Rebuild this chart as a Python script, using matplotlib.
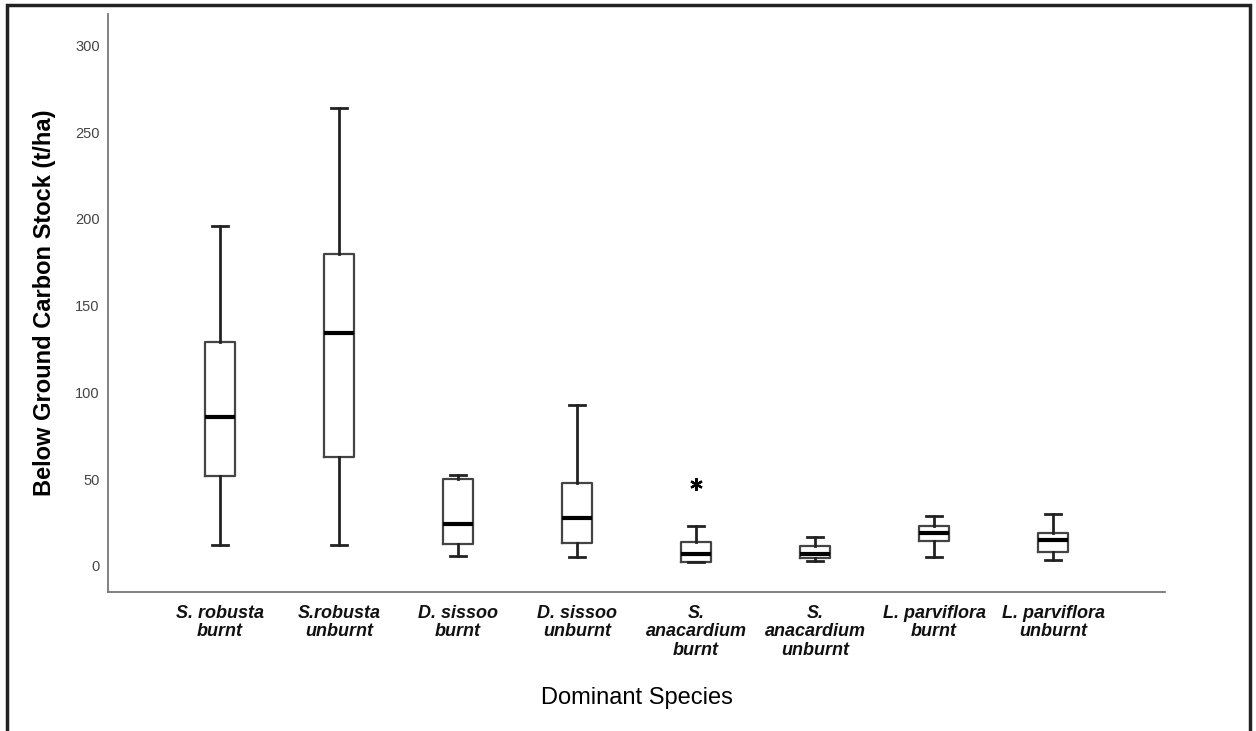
import matplotlib
matplotlib.use("Agg")
import matplotlib.pyplot as plt
from matplotlib.patches import Rectangle

categories = ["S. robusta\nburnt", "S.robusta\nunburnt", "D. sissoo\nburnt", "D. sissoo\nunburnt",
              "S.\nanacardium\nburnt", "S.\nanacardium\nunburnt", "L. parviflora\nburnt", "L. parviflora\nunburnt"]
whislo = [12, 12, 5.5, 5, 2, 3, 5, 3.5]
q1 = [52, 63, 12.5, 13.5, 2.3, 4.6, 14.4, 8]
med = [86, 134, 24, 27.5, 7, 6.9, 19, 15]
q3 = [129, 180, 50, 48, 13.8, 11.5, 23, 19]
whishi = [196, 264, 52.5, 92.5, 23, 16.5, 28.5, 30]
outliers = [[], [], [], [], [47.5], [], [], []]
yticks = [0, 50, 100, 150, 200, 250, 300]

plt.rcParams['font.family'] = ['Liberation Sans', 'DejaVu Sans']

fig = plt.figure(figsize=(12.56, 7.31), dpi=100)
ax = fig.add_axes([108/1256, 1-592/731, (1165-108)/1256, (592-14)/731])

stats = []
for i in range(len(categories)):
    stats.append(dict(whislo=whislo[i], q1=q1[i], med=med[i], q3=q3[i],
                      whishi=whishi[i], fliers=outliers[i], label=categories[i]))

ax.bxp(stats, positions=range(1, len(categories)+1), widths=0.255, capwidths=0.13,
       boxprops=dict(color='#444444', linewidth=1.6),
       whiskerprops=dict(color='#222222', linewidth=2.0),
       capprops=dict(color='#222222', linewidth=2.0),
       medianprops=dict(color='black', linewidth=3.0),
       flierprops=dict(marker=(6, 2, 0), markersize=9, markeredgewidth=1.6,
                       markerfacecolor='black', markeredgecolor='black', linestyle='none'))

ax.set_xlim(0.06, 8.94)
ax.set_ylim(-15, 318)
ax.set_yticks(yticks)
ax.set_yticklabels([str(v) for v in yticks], color='#444444', fontsize=10.5)
ax.tick_params(axis='both', length=0)
ax.tick_params(axis='y', pad=6)
ax.tick_params(axis='x', pad=9)
for lab in ax.get_xticklabels():
    lab.set_fontstyle('italic')
    lab.set_fontweight('bold')
    lab.set_fontsize(13)
    lab.set_linespacing(1.15)
    lab.set_color('#111111')
    lab.set_verticalalignment('top')

for s in ['top', 'right']:
    ax.spines[s].set_visible(False)
for s in ['left', 'bottom']:
    ax.spines[s].set_color('#777777')
    ax.spines[s].set_linewidth(1.3)

ax.set_ylabel("Below Ground Carbon Stock (t/ha)", fontsize=17, fontweight='bold', labelpad=14)
ax.set_xlabel("Dominant Species", fontsize=17, labelpad=20)

fig.patches.append(Rectangle((7/1256, -0.05), (1250-7)/1256, 1.05 - 5/731,
                             transform=fig.transFigure, fill=False,
                             edgecolor='#222222', linewidth=2.5))

fig.savefig("out.png", dpi=100)
